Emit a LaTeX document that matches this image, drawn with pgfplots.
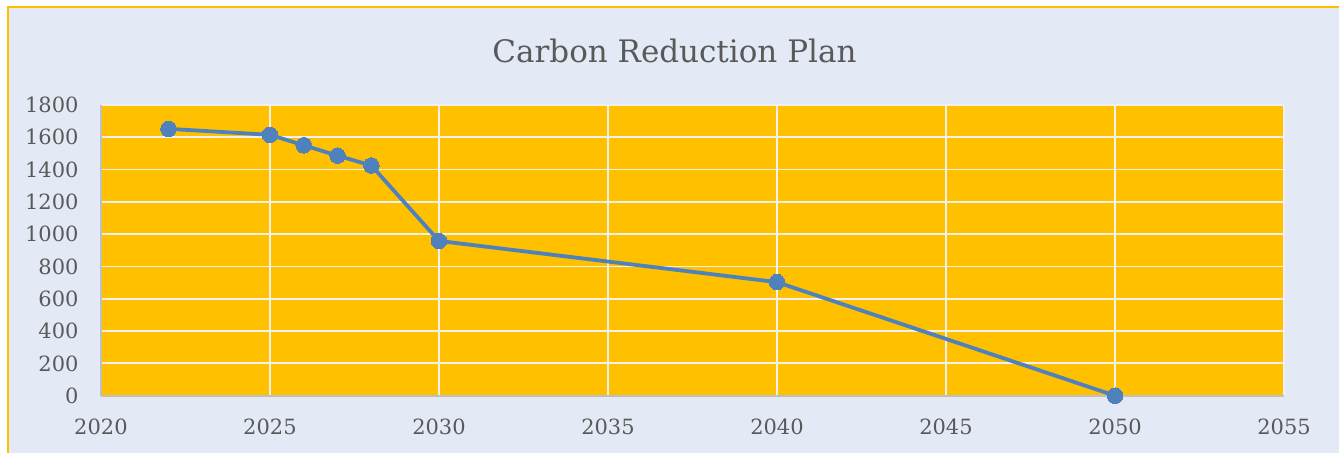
\documentclass[border=0pt]{standalone}
\usepackage{fontspec}
\setmainfont{DejaVu Serif}
\usepackage{pgfplots}
\pgfplotsset{compat=1.18}
\definecolor{bgblue}{RGB}{227,234,246}
\definecolor{plotorange}{RGB}{255,192,0}
\definecolor{linecol}{RGB}{79,129,189}
\definecolor{txtgrey}{RGB}{89,89,89}
\definecolor{gridc}{RGB}{240,240,240}
\definecolor{axgrey}{RGB}{191,191,191}
\begin{document}
\begin{tikzpicture}[x=1pt,y=1pt]
\path[fill=white] (0,0) rectangle (670,226.5);
\fill[bgblue] (4,0) rectangle (670,222.75);
\draw[plotorange, line width=1pt] (4,0) -- (4,222.75) -- (670,222.75);
\node[txtgrey, font=\fontsize{15.5}{18}\selectfont] at (337.5,201) {Carbon Reduction Plan};
\begin{axis}[
  at={(50.5pt,28.5pt)}, anchor=south west,
  scale only axis, width=592pt, height=145.5pt,
  xmin=2020, xmax=2055, ymin=0, ymax=1800,
  xtick={2020,2025,...,2055}, ytick={0,200,...,1800},
  grid=major, major grid style={gridc, line width=0.9pt},
  axis background/.style={fill=plotorange},
  axis x line*=bottom, axis y line*=left,
  axis line style={axgrey, line width=0.9pt, -},
  major tick length=0pt,
  /pgf/number format/assume math mode=true,
  /pgf/number format/1000 sep={},
  tick label style={txtgrey, font=\fontsize{10.5}{12}\selectfont},
  yticklabel style={anchor=east, inner sep=0pt, xshift=-11pt},
  xticklabel style={anchor=north, inner sep=0pt, yshift=-11.5pt},
]
\addplot[linecol, line width=1.9pt, mark=*, mark size=3.9pt, mark options={fill=linecol, draw=linecol, line width=0pt}]
  coordinates {(2022,1652) (2025,1615) (2026,1550) (2027,1486) (2028,1425) (2030,958) (2040,703) (2050,0)};
\end{axis}
\end{tikzpicture}
\end{document}
